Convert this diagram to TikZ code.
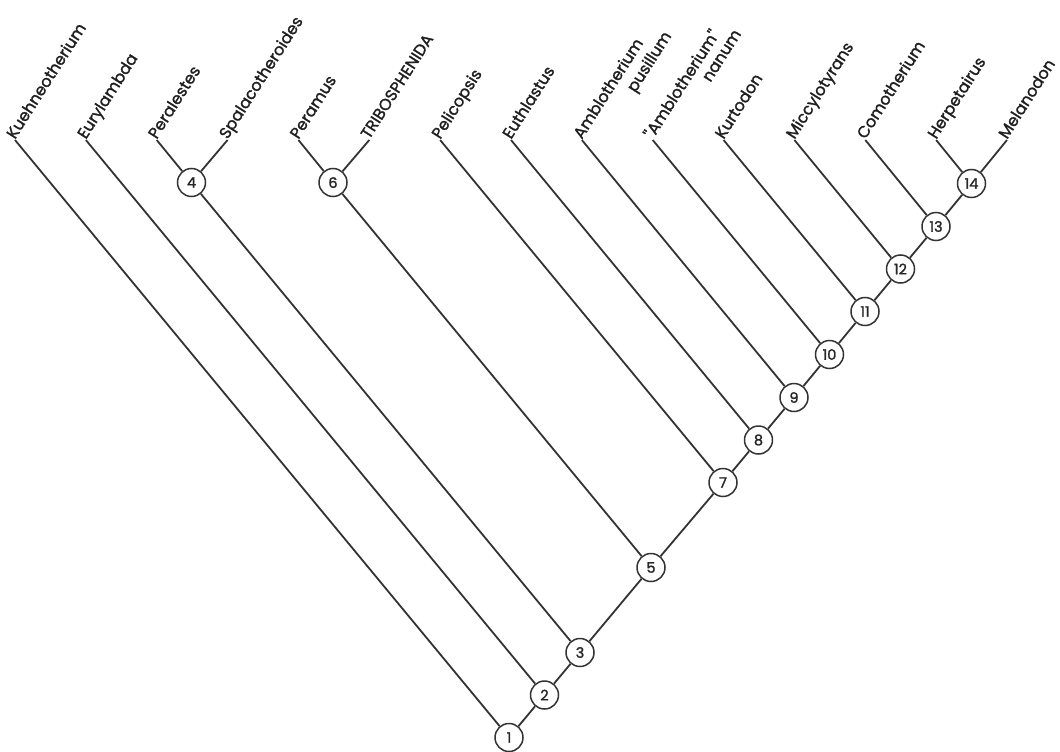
\documentclass[tikz,border=0pt]{standalone}
\usepackage{fontspec}
\setmainfont{Poppins}
\newfontfamily\lblfont{Poppins}[FakeBold=1.5]
\usetikzlibrary{calc}
\begin{document}
\begin{tikzpicture}[x=1pt,y=-1pt,
  br/.style={line width=1.8pt, draw=black!80},
  nd/.style={circle, draw=black!80, line width=1.5pt, fill=white, minimum size=28pt, inner sep=0pt, font=\lblfont\fontsize{14.5}{14.5}\selectfont, text=black!85},
  lbl/.style={rotate=57.5, anchor=base west, inner sep=0pt, font=\lblfont\fontsize{16}{16}\selectfont, text=black!88}]
\useasboundingbox (0,0) rectangle (1060,752);
% leaf tips
\coordinate (t0) at (15,140);
\coordinate (t1) at (85.86,140);
\coordinate (t2) at (156.71,140);
\coordinate (t3) at (227.57,140);
\coordinate (t4) at (298.43,140);
\coordinate (t5) at (369.29,140);
\coordinate (t6) at (440.14,140);
\coordinate (t7) at (511,140);
\coordinate (t8) at (581.86,140);
\coordinate (t9) at (652.71,140);
\coordinate (t10) at (723.57,140);
\coordinate (t11) at (794.43,140);
\coordinate (t12) at (865.29,140);
\coordinate (t13) at (936.14,140);
\coordinate (t14) at (1007,140);
% internal nodes
\node[nd] (n1) at (509,737.5) {1};
\node[nd] (n2) at (544.5,695) {2};
\node[nd] (n3) at (580,652.5) {3};
\node[nd] (n4) at (191.5,182.5) {4};
\node[nd] (n5) at (651,567.5) {5};
\node[nd] (n6) at (333,182.5) {6};
\node[nd] (n7) at (723,482.5) {7};
\node[nd] (n8) at (758.5,440) {8};
\node[nd] (n9) at (794,397.5) {9};
\node[nd] (n10) at (829.5,354.5) {10};
\node[nd] (n11) at (865,311.5) {11};
\node[nd] (n12) at (900.5,269) {12};
\node[nd] (n13) at (936,226.5) {13};
\node[nd] (n14) at (971.5,183.5) {14};
% branches
\draw[br] (n1) -- (n2);
\draw[br] (n2) -- (n3);
\draw[br] (n3) -- (n5);
\draw[br] (n5) -- (n7);
\draw[br] (n7) -- (n8);
\draw[br] (n8) -- (n9);
\draw[br] (n9) -- (n10);
\draw[br] (n10) -- (n11);
\draw[br] (n11) -- (n12);
\draw[br] (n12) -- (n13);
\draw[br] (n13) -- (n14);
\draw[br] (n4) -- (n3);
\draw[br] (n6) -- (n5);
\draw[br] (t0) -- (n1);
\draw[br] (t1) -- (n2);
\draw[br] (t2) -- (n4);
\draw[br] (t3) -- (n4);
\draw[br] (t4) -- (n6);
\draw[br] (t5) -- (n6);
\draw[br] (t6) -- (n7);
\draw[br] (t7) -- (n8);
\draw[br] (t8) -- (n9);
\draw[br] (t9) -- (n10);
\draw[br] (t10) -- (n11);
\draw[br] (t11) -- (n12);
\draw[br] (t12) -- (n13);
\draw[br] (t13) -- (n14);
\draw[br] (t14) -- (n14);
% labels
\node[lbl] (a0) at (t0) {Kuehneotherium};
\node[lbl] (a1) at (t1) {Eurylambda};
\node[lbl] (a2) at (t2) {Peralestes};
\node[lbl] (a3) at (t3) {Spalacotheroides};
\node[lbl] (a4) at (t4) {Peramus};
\node[lbl] (a5) at (t5) {TRIBOSPHENIDA};
\node[lbl] (a6) at (t6) {Pelicopsis};
\node[lbl] (a7) at (t7) {Euthlastus};
\node[lbl] (a8) at (t8) {Amblotherium};
\coordinate (p8) at ($(a8.base west)!0.59!(a8.base east)$);
\node[lbl] (b8) at ($(p8)!20pt!-90:(a8.base east)$) {pusillum};
\node[lbl] (a9) at (t9) {''Amblotherium''};
\coordinate (p9) at ($(a9.base west)!0.63!(a9.base east)$);
\node[lbl] (b9) at ($(p9)!18pt!-90:(a9.base east)$) {nanum};
\node[lbl] (a10) at (t10) {Kurtodon};
\node[lbl] (a11) at (t11) {Miccylotyrans};
\node[lbl] (a12) at (t12) {Comotherium};
\node[lbl] (a13) at (t13) {Herpetairus};
\node[lbl] (a14) at (t14) {Melanodon};
\end{tikzpicture}
\end{document}
